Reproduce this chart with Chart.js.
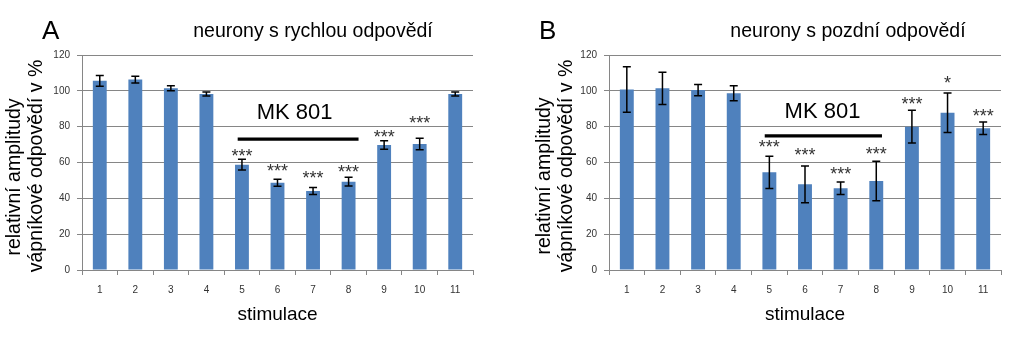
<!DOCTYPE html>
<html>
<head>
<meta charset="utf-8">
<script src="https://cdn.jsdelivr.net/npm/chart.js@4.4.1/dist/chart.umd.min.js"></script>
<style>
  html, body { margin: 0; padding: 0; background: #fff; }
  #wrap { position: relative; width: 1024px; height: 354px; overflow: hidden; }
  canvas { position: absolute; top: 0; }
</style>
</head>
<body>
<div id="wrap">
  <canvas id="chartA" width="512" height="354" style="left:0"></canvas>
  <canvas id="chartB" width="512" height="354" style="left:512px"></canvas>
</div>
<script>
// ---- data ----
const categories = ['1', '2', '3', '4', '5', '6', '7', '8', '9', '10', '11'];
const yTicks = [0, 20, 40, 60, 80, 100, 120];

const fastMeans  = [105.6, 106.3, 101.4, 98.2, 58.8, 48.7, 44.1, 49.3, 69.8, 70.3, 98.2];
const fastErrors = [3.0, 1.9, 1.4, 1.1, 3.0, 1.9, 2.0, 2.4, 2.4, 3.2, 1.1];
const fastStars  = ['', '', '', '', '***', '***', '***', '***', '***', '***', ''];
const fastStarLevels = [null, null, null, null, 66.0, 57.6, 53.6, 56.8, 76.6, 84.3, null];
const fastMkSpan = [3.88, 7.28];
const fastMkLineLevel = 73.1;
const fastMkLabelAt = 5.48;
const fastMkLabelLevel = 87.6;

const slowMeans  = [100.8, 101.4, 100.4, 98.6, 54.5, 47.8, 45.6, 49.7, 80.0, 87.8, 79.1];
const slowErrors = [12.7, 9.0, 3.2, 4.2, 9.0, 10.3, 3.5, 11.0, 9.1, 11.0, 3.5];
const slowStars  = ['', '', '', '', '***', '***', '***', '***', '***', '*', '***'];
const slowStarLevels = [null, null, null, null, 70.7, 66.6, 55.8, 67.0, 94.9, 106.4, 88.3];
const slowMkSpan = [3.87, 7.16];
const slowMkLineLevel = 74.9;
const slowMkLabelAt = 5.49;
const slowMkLabelLevel = 88.3;

const mkLabel = 'MK 801';
const xTitle = 'stimulace';
const yTitleLines = ['relativní amplitudy', 'vápníkové odpovědí v %'];

// ---- style ----
const FONT = "'Liberation Sans', Arial, Helvetica, sans-serif";
const BAR = '#4F81BD';
const GRID = '#868686';

const panelPlugin = {
  id: 'panelExtras',
  afterDatasetsDraw(chart, args, o) {
    const ctx = chart.ctx;
    const xs = chart.scales.x, ys = chart.scales.y;
    const meta = chart.getDatasetMeta(0);
    ctx.save();
    // error bars
    ctx.strokeStyle = '#000';
    ctx.lineWidth = 1.5;
    meta.data.forEach((bar, i) => {
      const m = o.means[i], e = o.errors[i];
      const yt = ys.getPixelForValue(m + e), yb = ys.getPixelForValue(m - e);
      const x = bar.x;
      ctx.beginPath();
      ctx.moveTo(x, yt); ctx.lineTo(x, yb);
      ctx.moveTo(x - 4, yt); ctx.lineTo(x + 4, yt);
      ctx.moveTo(x - 4, yb); ctx.lineTo(x + 4, yb);
      ctx.stroke();
    });
    // stars
    ctx.fillStyle = '#333';
    ctx.font = '18px ' + FONT;
    ctx.textAlign = 'center';
    ctx.textBaseline = 'alphabetic';
    o.stars.forEach((s, i) => {
      if (!s) return;
      const x = xs.getPixelForValue(i);
      const y = ys.getPixelForValue(o.starLevels[i]);
      ctx.fillText(s, x, y + 10);
    });
    // MK 801 line
    ctx.strokeStyle = '#000';
    ctx.lineWidth = 3.3;
    const ly = ys.getPixelForValue(o.mkLineLevel);
    ctx.beginPath();
    ctx.moveTo(xs.getPixelForValue(o.mkSpan[0]), ly);
    ctx.lineTo(xs.getPixelForValue(o.mkSpan[1]), ly);
    ctx.stroke();
    // MK label
    ctx.fillStyle = '#000';
    ctx.font = '22px ' + FONT;
    ctx.textBaseline = 'middle';
    ctx.fillText(mkLabel, xs.getPixelForValue(o.mkLabelAt), ys.getPixelForValue(o.mkLabelLevel));
    // panel letter
    ctx.textAlign = 'left';
    ctx.textBaseline = 'alphabetic';
    ctx.font = '26px ' + FONT;
    ctx.fillText(o.letter, o.letterX, 39);
    // title
    ctx.textAlign = 'center';
    ctx.font = '19.5px ' + FONT;
    ctx.fillText(o.title, o.titleX, 37);
    // y axis title (two lines)
    ctx.font = '19.5px ' + FONT;
    ctx.textBaseline = 'middle';
    ctx.save();
    ctx.translate(o.yTitleX[0], o.yTitleC[0]);
    ctx.rotate(-Math.PI / 2);
    ctx.fillText(yTitleLines[0], 0, 0);
    ctx.restore();
    ctx.save();
    ctx.translate(o.yTitleX[1], o.yTitleC[1]);
    ctx.rotate(-Math.PI / 2);
    ctx.fillText(yTitleLines[1], 0, 0);
    ctx.restore();
    ctx.restore();
  }
};

function makeChart(id, means, extras, leftWidth, rightPad) {
  return new Chart(document.getElementById(id), {
    type: 'bar',
    data: {
      labels: categories,
      datasets: [{
        data: means,
        backgroundColor: BAR,
        borderWidth: 0,
        barPercentage: 0.39,
        categoryPercentage: 1.0
      }]
    },
    options: {
      responsive: false,
      animation: false,
      devicePixelRatio: 1,
      layout: { padding: { left: 0, top: 55, right: rightPad, bottom: 0 } },
      plugins: {
        legend: { display: false },
        tooltip: { enabled: false },
        title: { display: false },
        panelExtras: extras
      },
      scales: {
        x: {
          grid: { display: true, drawOnChartArea: false, drawTicks: true, tickLength: 5, color: GRID, offset: true },
          border: { display: true, color: GRID, width: 1 },
          ticks: { color: '#333', font: { family: FONT, size: 10 }, padding: 9, maxRotation: 0 },
          title: { display: true, text: xTitle, color: '#000', font: { family: FONT, size: 19 }, padding: { top: 0, bottom: 28 } },
          afterFit(s) { s.height = 84; }
        },
        y: {
          min: 0, max: 120,
          afterBuildTicks(s) { s.ticks = yTicks.map(v => ({ value: v })); },
          grid: { color: GRID, lineWidth: 1, drawTicks: true, tickLength: 5 },
          border: { display: true, color: GRID, width: 1 },
          ticks: { color: '#333', font: { family: FONT, size: 10 }, padding: 7 },
          afterFit(s) { s.width = leftWidth; }
        }
      }
    },
    plugins: [panelPlugin]
  });
}

makeChart('chartA', fastMeans, {
  means: fastMeans, errors: fastErrors, stars: fastStars, starLevels: fastStarLevels,
  mkSpan: fastMkSpan, mkLineLevel: fastMkLineLevel, mkLabelAt: fastMkLabelAt, mkLabelLevel: fastMkLabelLevel,
  letter: 'A', letterX: 42, title: 'neurony s rychlou odpovědí', titleX: 313,
  yTitleX: [15, 37], yTitleC: [177, 166]
}, 82, 39);

makeChart('chartB', slowMeans, {
  means: slowMeans, errors: slowErrors, stars: slowStars, starLevels: slowStarLevels,
  mkSpan: slowMkSpan, mkLineLevel: slowMkLineLevel, mkLabelAt: slowMkLabelAt, mkLabelLevel: slowMkLabelLevel,
  letter: 'B', letterX: 27, title: 'neurony s pozdní odpovědí', titleX: 336,
  yTitleX: [33, 55], yTitleC: [176, 166]
}, 97, 23);
</script>
</body>
</html>
